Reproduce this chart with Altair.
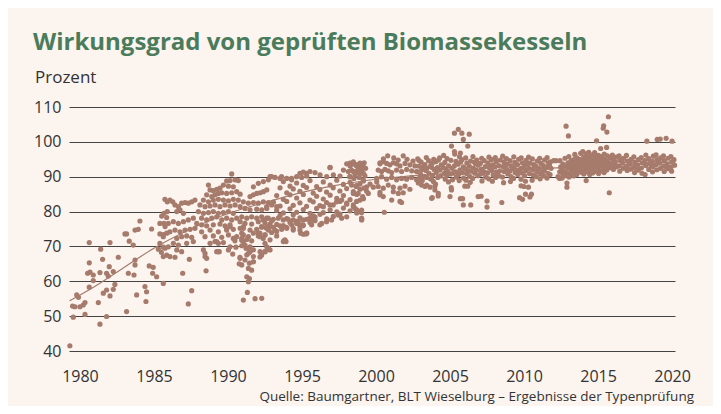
import altair as alt
import pandas as pd

TITLE = "Wirkungsgrad von geprüften Biomassekesseln"
UNIT = "Prozent"
SOURCE = "Quelle: Baumgartner, BLT Wieselburg – Ergebnisse der Typenprüfung"

x_ticks = [1980, 1985, 1990, 1995, 2000, 2005, 2010, 2015, 2020]
y_ticks = [40, 50, 60, 70, 80, 90, 100, 110]

# --- test results (year, efficiency %) ---
pts_1980_1986 = [
    (1979.32, 41.5), (1979.5, 52.9), (1979.55, 49.7), (1979.66, 52.7), (1979.78, 56.1), (1979.9, 55.4),
    (1980.0, 52.7), (1980.22, 53.2), (1980.34, 53.9), (1980.34, 50.5), (1980.63, 71.1), (1980.63, 65.3),
    (1980.52, 62.3), (1980.68, 62.6), (1980.9, 61.8), (1980.9, 60.2), (1980.63, 58.3), (1981.24, 53.9),
    (1981.35, 47.7), (1981.4, 69.2), (1981.53, 66.3), (1981.35, 62.5), (1981.58, 56.6), (1981.8, 49.9),
    (1981.8, 62.3), (1981.91, 61.5), (1981.98, 64.2), (1982.03, 71.1), (1981.8, 57.5), (1982.03, 55.8),
    (1982.25, 62.8), (1982.25, 57.7), (1982.36, 59.1), (1982.59, 66.9), (1983.04, 73.6), (1983.15, 73.6),
    (1983.33, 71.5), (1983.6, 70.4), (1983.72, 74.7), (1983.94, 74.9), (1984.05, 77.3), (1983.72, 66.1),
    (1983.72, 64.7), (1983.27, 62.3), (1983.65, 61.8), (1983.83, 56.1), (1983.15, 51.3), (1984.39, 58.5),
    (1984.5, 57.0), (1984.46, 54.2), (1984.68, 64.4), (1984.95, 64.0), (1984.91, 62.3), (1985.18, 61.3),
    (1984.84, 75.0), (1985.4, 73.6), (1985.63, 73.4), (1985.3, 69.2), (1985.4, 70.9), (1985.63, 59.4),
    (1985.4, 76.6), (1985.68, 76.6), (1985.52, 78.7), (1985.68, 79.5), (1985.9, 80.0), (1985.74, 83.5),
    (1985.9, 82.8), (1985.63, 69.8), (1985.5, 68.3),
]

pts_1986_1993 = [
    (1986.08, 83.3), (1986.27, 82.8), (1985.86, 78.3), (1985.97, 76.6), (1985.75, 75.7), (1985.86, 73.8),
    (1986.08, 74.2), (1985.63, 72.8), (1985.75, 69.5), (1985.97, 69.9), (1985.86, 67.5), (1985.63, 67.1),
    (1986.42, 81.9), (1986.65, 81.4), (1986.87, 82.4), (1987.1, 82.6), (1987.32, 82.4), (1987.55, 82.8),
    (1987.77, 83.3), (1986.54, 80.0), (1986.76, 80.5), (1986.99, 79.5), (1986.31, 77.1), (1986.65, 76.6),
    (1986.99, 77.1), (1987.32, 77.6), (1987.66, 78.1), (1986.42, 74.7), (1986.76, 74.2), (1987.1, 74.7),
    (1987.44, 74.9), (1987.77, 75.2), (1986.54, 72.3), (1986.87, 72.8), (1987.21, 73.0), (1987.55, 72.6),
    (1986.31, 70.9), (1986.65, 70.4), (1987.21, 70.9), (1986.54, 69.0), (1986.87, 68.5), (1986.08, 67.1),
    (1986.42, 66.9), (1987.66, 71.4), (1987.39, 66.3), (1988.34, 69.0), (1988.45, 68.0), (1988.45, 67.1),
    (1988.56, 66.6), (1986.94, 62.3), (1987.55, 57.3), (1987.32, 53.5), (1988.52, 63.0), (1989.24, 68.5),
    (1990.25, 90.8), (1989.91, 88.8), (1990.14, 88.9), (1990.48, 89.1), (1990.7, 88.9), (1989.69, 87.6),
    (1990.03, 87.3), (1990.36, 87.1), (1988.68, 87.6), (1988.79, 86.2), (1989.01, 86.0), (1989.24, 86.4),
    (1989.46, 86.7), (1988.56, 84.8), (1988.9, 84.3), (1989.13, 84.8), (1989.35, 85.2), (1989.58, 85.4),
    (1989.91, 85.2), (1990.25, 85.4), (1990.59, 85.7), (1990.82, 85.0), (1988.34, 83.3), (1988.68, 82.8),
    (1989.01, 83.3), (1989.35, 83.5), (1989.69, 83.3), (1990.03, 83.1), (1990.36, 83.5), (1990.7, 83.3),
    (1988.11, 81.9), (1988.45, 81.4), (1988.79, 81.6), (1989.13, 81.9), (1989.46, 81.4), (1989.8, 81.9),
    (1990.14, 81.6), (1990.48, 81.9), (1990.82, 81.4), (1988.0, 80.0), (1988.34, 79.5), (1988.68, 79.7),
    (1989.01, 80.0), (1989.35, 79.5), (1989.69, 79.7), (1990.03, 80.0), (1990.36, 79.5), (1988.22, 78.1),
    (1988.56, 77.6), (1988.9, 78.1), (1989.24, 78.5), (1989.58, 77.6), (1989.91, 78.1), (1990.25, 77.6),
    (1990.59, 78.1), (1987.89, 76.6), (1988.22, 76.2), (1988.56, 75.9), (1989.01, 76.2), (1989.46, 76.4),
    (1989.8, 75.9), (1990.14, 76.2), (1988.22, 74.2), (1988.79, 74.7), (1989.35, 74.2), (1989.91, 74.7),
    (1990.36, 74.9), (1990.82, 75.2), (1991.04, 75.7), (1988.45, 72.8), (1989.01, 73.0), (1989.58, 72.6),
    (1990.03, 73.3), (1990.59, 72.8), (1990.93, 73.8), (1988.79, 70.9), (1989.24, 71.4), (1989.69, 71.1),
    (1989.35, 68.5), (1990.03, 69.0), (1990.14, 69.9), (1990.93, 72.3), (1991.04, 71.4), (1991.15, 70.4),
    (1991.27, 69.5), (1991.38, 68.0), (1991.49, 84.3), (1991.72, 84.8), (1991.94, 85.2), (1992.17, 85.4),
    (1992.39, 85.7), (1992.62, 86.2), (1991.72, 87.1), (1992.05, 88.1), (1992.39, 88.6), (1992.73, 89.1),
    (1991.04, 82.8), (1991.38, 82.4), (1991.72, 82.6), (1992.05, 82.4), (1992.39, 82.8), (1992.73, 82.6),
    (1991.15, 80.9), (1991.49, 80.5), (1991.94, 80.7), (1992.28, 80.5), (1992.62, 80.9), (1990.93, 78.5),
    (1991.27, 78.1), (1991.6, 78.5), (1991.94, 78.1), (1992.28, 78.5), (1992.62, 78.1), (1990.82, 77.1),
    (1991.15, 76.6), (1991.6, 76.4), (1992.05, 77.1), (1992.5, 76.8), (1992.84, 76.4), (1991.04, 75.2),
    (1991.49, 74.7), (1991.94, 74.9), (1992.28, 75.5), (1992.73, 75.2), (1991.04, 73.3), (1991.38, 72.8),
    (1991.72, 73.8), (1992.05, 73.0), (1992.5, 73.3), (1990.93, 71.8), (1991.27, 72.0), (1991.6, 71.6),
    (1990.93, 70.2), (1991.22, 69.5), (1991.49, 69.9), (1991.72, 69.0), (1991.49, 68.5), (1991.27, 67.6),
    (1991.72, 67.1), (1992.17, 68.5), (1990.82, 66.6), (1991.15, 66.1), (1991.45, 65.2), (1991.72, 65.6),
    (1991.38, 63.7), (1991.6, 63.2), (1990.93, 64.7), (1991.27, 61.3), (1991.45, 60.8), (1991.38, 59.9),
    (1991.31, 56.8), (1991.04, 54.6), (1991.83, 55.0), (1992.28, 55.1), (1989.41, 68.5), (1990.32, 67.8),
    (1990.54, 69.8), (1990.81, 66.9), (1990.76, 65.0), (1991.71, 65.6), (1992.16, 67.0), (1992.5, 68.5),
    (1992.72, 69.2), (1989.12, 71.4), (1989.35, 70.9), (1990.36, 72.3), (1990.47, 71.6), (1990.14, 75.7),
    (1989.91, 75.2), (1992.05, 73.8), (1992.16, 72.8), (1992.57, 75.5), (1992.79, 75.9),
]

pts_1993_2000 = [
    (1996.9, 92.7), (1998.02, 93.7), (1998.25, 93.1), (1998.47, 93.7), (1998.7, 93.4), (1998.92, 92.9),
    (1999.03, 91.9), (1997.8, 91.9), (1998.13, 91.5), (1998.47, 91.5), (1998.81, 91.2), (1999.15, 91.0),
    (2000.27, 93.7), (1995.54, 91.5), (1995.88, 91.2), (1996.22, 90.5), (1996.67, 90.0), (1997.12, 90.5),
    (1997.57, 90.2), (1994.64, 90.0), (1994.98, 89.8), (1995.32, 90.2), (1993.97, 89.5), (1994.3, 89.1),
    (1992.84, 90.0), (1993.18, 89.8), (1993.52, 89.5),
    (1993.74, 88.6), (1994.19, 87.3), (1994.64, 88.2), (1995.09, 87.5), (1995.54, 88.9), (1995.99, 87.2),
    (1996.44, 88.5), (1996.9, 87.6), (1997.35, 89.0), (1997.8, 87.8), (1998.25, 88.4), (1998.7, 87.5),
    (1999.15, 88.8), (1999.6, 87.9), (2000.05, 88.5),
    (1993.52, 86.8), (1993.97, 85.4), (1994.41, 86.5), (1994.86, 85.8), (1995.31, 86.9), (1995.76, 85.3),
    (1996.21, 86.3), (1996.66, 85.6), (1997.11, 86.8), (1997.56, 85.9), (1998.02, 86.6), (1998.47, 85.2),
    (1998.92, 86.4), (1999.37, 85.8), (1999.82, 87.0), (2000.27, 85.5),
    (1993.29, 84.6), (1993.74, 83.5), (1994.19, 84.8), (1994.64, 83.9), (1995.09, 84.9), (1995.54, 83.3),
    (1995.99, 84.4), (1996.44, 83.6), (1996.9, 84.7), (1997.35, 83.8), (1997.8, 84.6), (1998.25, 83.4),
    (1998.7, 84.9), (1999.15, 83.7),
    (1993.07, 82.7), (1993.52, 81.6), (1993.97, 82.9), (1994.41, 81.8), (1994.86, 82.5), (1995.31, 81.5),
    (1995.76, 82.8), (1996.21, 81.7), (1996.66, 82.6), (1997.11, 81.9), (1997.56, 82.9), (1998.02, 82.1),
    (1998.47, 81.4),
    (1993.29, 80.4), (1993.74, 79.6), (1994.19, 80.8), (1994.64, 79.8), (1995.09, 80.6), (1995.54, 79.5),
    (1995.99, 80.9), (1996.44, 79.7), (1996.9, 80.5), (1997.35, 79.9), (1997.8, 81.0), (1998.25, 80.2),
    (1998.7, 79.6), (1999.03, 80.4),
    (1993.52, 78.9), (1993.97, 78.0), (1994.41, 79.1), (1994.86, 78.2), (1995.32, 77.8), (1995.77, 78.8),
    (1996.22, 79.2), (1996.67, 77.9), (1997.12, 78.6), (1997.57, 79.3),
    (1992.95, 77.3), (1993.29, 76.3), (1993.74, 76.0), (1994.19, 76.9), (1994.64, 77.2), (1995.09, 76.1),
    (1995.54, 76.9), (1995.88, 77.4),
    (1993.18, 74.7), (1993.63, 74.9), (1993.97, 75.2), (1994.41, 74.7), (1994.86, 75.7), (1995.32, 73.8),
    (1995.05, 75.9), (1998.92, 80.0), (1999.03, 78.1), (1994.91, 73.8), (1995.27, 73.6), (1993.79, 71.7),
    (1993.92, 71.4), (1992.73, 74.7), (1993.29, 74.3), (1992.84, 69.0), (1992.62, 69.9),
    (1998.35, 93.6), (1998.69, 93.1), (1998.58, 90.5), (1998.24, 90.0), (1998.8, 91.5), (1996.89, 92.6),
    (1999.37, 87.1), (1999.48, 85.2), (1998.69, 80.5), (1999.03, 77.6), (1995.31, 91.0), (1994.86, 91.0),
    (1995.09, 91.3), (1992.95, 90.0), (1993.62, 90.0), (1994.3, 89.5), (1992.61, 81.4), (1992.95, 81.9),
    (1993.29, 81.4), (1992.38, 77.6), (1992.72, 78.1), (1993.06, 77.8), (1993.4, 78.1), (1993.74, 77.6),
    (1994.07, 77.8), (1994.41, 77.6), (1994.75, 77.1), (1995.09, 77.6), (1995.54, 78.1), (1995.88, 78.4),
    (1992.27, 75.7), (1992.61, 75.2), (1993.06, 75.5), (1993.51, 75.9), (1993.96, 75.5), (1994.3, 76.2),
    (1994.64, 76.6), (1994.98, 76.2), (1992.16, 73.8), (1992.5, 73.3), (1992.95, 74.0), (1994.41, 75.2),
    (1994.86, 74.7), (1992.38, 72.3), (1992.84, 71.9), (1992.5, 70.9), (1993.29, 73.0), (1995.09, 73.5),
    (1995.31, 73.8), (1992.72, 69.5), (1992.27, 67.5), (1992.5, 68.5), (1993.85, 71.9), (1993.74, 71.4),
    (1995.76, 77.6), (1995.65, 76.2), (1996.21, 76.2), (1996.33, 76.6), (1996.66, 77.1), (1997.0, 77.6),
    (1997.68, 78.1), (1998.02, 78.5), (1997.45, 79.0), (1997.34, 82.8), (1997.68, 83.3), (1998.02, 82.4),
    (1996.44, 81.4), (1996.89, 81.9),
]

pts_1998_2003 = [
    (1998.24, 93.9), (1998.47, 94.3), (1998.69, 93.4), (1998.92, 93.9), (1999.14, 92.9), (1998.35, 91.9),
    (1998.58, 91.5), (1998.8, 92.1), (1999.03, 91.0), (1998.24, 90.0), (1998.51, 89.5), (1998.87, 89.8),
    (1999.14, 89.1), (1998.35, 87.6), (1998.65, 87.2), (1998.92, 87.9), (1999.19, 86.7), (1998.47, 85.7),
    (1998.8, 85.2), (1999.1, 84.3), (1998.92, 83.3), (1998.69, 82.9), (1998.47, 81.9), (1998.58, 80.9),
    (1998.69, 80.3), (1999.03, 79.7), (1999.03, 77.8), (2000.56, 79.8),
    (2000.79, 96.0), (2001.84, 96.0), (2002.92, 94.6),
    (2000.27, 94.0), (2000.49, 94.3), (2000.72, 93.8), (2000.94, 93.4), (2001.17, 94.0), (2001.39, 93.7),
    (2001.62, 93.1), (2001.96, 93.8), (2002.29, 93.4), (2002.63, 93.1),
    (2000.15, 91.9), (2000.38, 91.5), (2000.6, 92.1), (2000.83, 91.7), (2001.06, 91.2), (2001.39, 91.9),
    (2001.73, 91.5), (2002.07, 92.1), (2002.41, 91.7), (2002.74, 91.5), (2003.08, 91.9), (2003.42, 92.4),
    (2003.76, 92.7),
    (2000.04, 89.5), (2000.38, 90.0), (2000.72, 89.3), (2001.06, 89.8), (2001.39, 89.1), (2001.73, 89.5),
    (2002.07, 89.3), (2002.41, 89.8), (2002.74, 89.1), (2003.08, 89.5), (2003.42, 89.8), (2003.76, 89.3),
    (2000.15, 87.2), (2000.49, 86.7), (2000.83, 87.6), (2001.17, 87.0), (2001.62, 86.7), (2001.96, 87.3),
    (2002.29, 86.4), (2003.08, 87.6), (2003.31, 87.2), (2003.65, 87.0), (2003.98, 87.3),
    (2000.27, 84.8), (2000.49, 84.3), (2001.17, 85.7), (2001.51, 85.2), (2001.84, 85.4), (2003.98, 86.2),
    (2004.21, 85.2), (2003.76, 83.8), (2001.06, 83.3), (2001.62, 82.9), (2001.73, 82.6),
    (2000.5, 95.1), (2001.2, 95.4), (2001.5, 94.8), (2002.1, 95.0), (2002.5, 94.5), (1999.3, 92.4),
    (1999.2, 94.0), (1999.25, 90.3),
]

pts_2003_2012 = [
    (2002.82, 95.1), (2002.9, 93.0), (2002.78, 91.4), (2002.95, 89.6), (2002.86, 88.2),
    (2003.05, 94.2), (2003.16, 92.3), (2003.02, 90.6), (2003.13, 88.9),
    (2003.4, 95.5), (2003.3, 93.5), (2003.38, 91.8), (2003.27, 90.1), (2003.42, 87.6),
    (2003.55, 94.6), (2003.66, 92.9), (2003.58, 91.0), (2003.68, 89.4),
    (2003.9, 95.0), (2003.8, 93.9), (2003.93, 92.1), (2003.82, 90.4), (2003.88, 88.6),
    (2004.04, 94.3), (2004.15, 92.6), (2004.07, 91.3), (2004.17, 89.8), (2004.02, 87.9),
    (2004.3, 95.4), (2004.41, 93.4), (2004.33, 91.9), (2004.38, 90.2),
    (2004.57, 96.1), (2004.65, 94.1), (2004.54, 92.7), (2004.62, 91.0), (2004.68, 89.3),
    (2004.8, 95.2), (2004.91, 93.1), (2004.83, 91.6), (2004.78, 90.4), (2004.9, 88.5),
    (2005.06, 94.7), (2005.14, 92.4), (2005.03, 90.8), (2005.17, 89.1), (2005.08, 86.9),
    (2005.32, 96.5), (2005.4, 94.4), (2005.29, 93.1), (2005.37, 91.4), (2005.43, 89.9),
    (2005.64, 95.7), (2005.55, 93.6), (2005.67, 92.0), (2005.58, 90.6), (2005.62, 88.9),
    (2005.8, 94.9), (2005.9, 92.8), (2005.83, 91.2), (2005.92, 89.6),
    (2006.06, 95.4), (2006.14, 93.9), (2006.03, 92.3), (2006.12, 90.9), (2006.08, 89.0),
    (2006.39, 94.5), (2006.31, 93.0), (2006.42, 91.6), (2006.33, 90.1), (2006.37, 88.4),
    (2006.55, 95.8), (2006.64, 94.2), (2006.58, 92.5), (2006.67, 91.0), (2006.53, 89.5),
    (2006.81, 94.8), (2006.9, 93.3), (2006.79, 91.9), (2006.88, 90.3),
    (2007.14, 95.3), (2007.05, 93.8), (2007.12, 92.2), (2007.03, 90.7), (2007.16, 88.8),
    (2007.31, 94.6), (2007.39, 92.9), (2007.28, 91.5), (2007.41, 89.9),
    (2007.63, 95.6), (2007.56, 94.0), (2007.66, 92.6), (2007.54, 91.1), (2007.62, 89.4),
    (2007.8, 94.9), (2007.89, 93.4), (2007.82, 91.8), (2007.92, 90.5), (2007.86, 88.7),
    (2008.06, 95.5), (2008.13, 94.4), (2008.04, 92.8), (2008.15, 91.3), (2008.08, 89.8),
    (2008.39, 94.8), (2008.3, 93.2), (2008.37, 91.7), (2008.32, 90.2),
    (2008.56, 95.9), (2008.64, 94.3), (2008.58, 92.9), (2008.66, 91.5), (2008.55, 89.9), (2008.62, 88.3),
    (2008.81, 95.2), (2008.89, 93.6), (2008.83, 92.2), (2008.9, 90.8),
    (2009.06, 94.6), (2009.14, 93.1), (2009.04, 91.6), (2009.12, 90.0), (2009.08, 88.6),
    (2009.31, 95.7), (2009.38, 94.1), (2009.33, 92.6), (2009.4, 91.2), (2009.29, 89.5),
    (2009.64, 95.0), (2009.56, 93.5), (2009.62, 92.0), (2009.58, 90.6),
    (2009.81, 95.4), (2009.89, 94.0), (2009.83, 92.5), (2009.87, 91.1), (2009.8, 89.3),
    (2010.14, 94.7), (2010.06, 93.2), (2010.12, 91.8), (2010.04, 90.3), (2010.1, 88.7),
    (2010.31, 95.6), (2010.39, 93.9), (2010.33, 92.4), (2010.37, 90.9),
    (2010.56, 95.1), (2010.64, 93.5), (2010.58, 92.1), (2010.63, 90.5), (2010.55, 89.0),
    (2010.89, 94.5), (2010.81, 93.0), (2010.87, 91.5), (2010.83, 90.0),
    (2011.06, 95.3), (2011.14, 93.8), (2011.04, 92.3), (2011.12, 90.8), (2011.09, 89.4),
    (2011.39, 94.8), (2011.31, 93.2), (2011.37, 91.7), (2011.33, 90.2),
    (2011.56, 95.5), (2011.64, 94.0), (2011.58, 92.7), (2011.62, 91.0), (2011.55, 89.6),
    (2011.78, 94.3), (2011.83, 92.4), (2011.76, 90.6),
    (2003.22, 93.0), (2003.72, 93.3), (2004.22, 94.8), (2004.72, 92.2), (2005.22, 91.0), (2005.72, 94.2),
    (2006.22, 91.7), (2006.72, 93.8), (2007.22, 91.0), (2007.72, 93.1), (2008.22, 90.6), (2008.72, 93.2),
    (2009.22, 92.3), (2009.72, 91.4), (2010.22, 93.6), (2010.72, 92.8), (2011.22, 91.2), (2011.72, 93.4),
    (2012.0, 94.6), (2012.16, 94.6), (2012.3, 90.0), (2012.4, 89.5),
]

pts_2012_2020 = [
    (2012.43, 94.6), (2012.48, 92.8), (2012.41, 91.4),
    (2012.63, 93.6), (2012.57, 92.1), (2012.62, 90.7), (2012.58, 89.6),
    (2012.77, 95.3), (2012.83, 93.0), (2012.78, 91.6), (2012.84, 90.3),
    (2013.03, 95.8), (2012.97, 94.0), (2013.02, 92.5), (2012.98, 91.0), (2013.04, 89.9),
    (2013.17, 94.6), (2013.23, 93.3), (2013.18, 91.9), (2013.22, 90.6),
    (2013.43, 96.4), (2013.37, 94.9), (2013.42, 93.6), (2013.38, 92.2), (2013.44, 91.1), (2013.36, 90.2),
    (2013.57, 95.4), (2013.63, 94.1), (2013.58, 92.8), (2013.62, 91.6), (2013.56, 90.6),
    (2013.83, 96.7), (2013.77, 95.0), (2013.82, 93.8), (2013.78, 92.4), (2013.84, 91.3),
    (2013.97, 97.2), (2014.03, 95.7), (2013.98, 94.4), (2014.02, 93.1), (2013.96, 91.9), (2014.04, 90.8),
    (2014.23, 96.6), (2014.17, 95.2), (2014.22, 93.9), (2014.18, 92.6), (2014.24, 91.4),
    (2014.37, 97.0), (2014.43, 95.6), (2014.38, 94.3), (2014.42, 93.0), (2014.36, 91.8), (2014.44, 90.6),
    (2014.63, 96.3), (2014.57, 94.9), (2014.62, 93.5), (2014.58, 92.2), (2014.64, 91.1),
    (2014.77, 96.9), (2014.83, 95.5), (2014.78, 94.1), (2014.82, 92.8), (2014.76, 91.5),
    (2015.03, 96.1), (2014.97, 94.7), (2015.02, 93.4), (2014.98, 92.1), (2015.04, 90.9),
    (2015.18, 98.1), (2015.23, 95.8), (2015.17, 94.4), (2015.22, 93.0), (2015.19, 91.7),
    (2015.42, 96.5), (2015.37, 95.1), (2015.43, 93.8), (2015.38, 92.5), (2015.41, 91.2),
    (2015.58, 98.4), (2015.63, 96.0), (2015.57, 94.6), (2015.62, 93.2), (2015.59, 91.9),
    (2015.83, 95.4), (2015.77, 94.0), (2015.82, 92.6),
    (2015.97, 96.2), (2016.03, 94.9), (2015.98, 93.5), (2016.04, 92.1),
    (2016.23, 95.6), (2016.17, 94.2), (2016.22, 92.8),
    (2016.42, 96.0), (2016.48, 94.7), (2016.43, 93.1), (2016.47, 91.6),
    (2016.73, 95.3), (2016.67, 93.9), (2016.72, 92.4),
    (2016.92, 96.1), (2016.98, 94.5), (2016.93, 93.0), (2016.97, 91.8),
    (2017.23, 95.0), (2017.17, 93.6), (2017.22, 92.2),
    (2017.42, 95.7), (2017.48, 94.2), (2017.43, 92.7), (2017.47, 91.2),
    (2017.73, 94.9), (2017.67, 93.4), (2017.72, 91.9),
    (2017.92, 95.5), (2017.98, 94.0), (2017.93, 92.5), (2017.97, 91.0),
    (2018.23, 96.2), (2018.17, 94.6), (2018.22, 93.2), (2018.18, 90.6),
    (2018.42, 95.2), (2018.48, 93.8), (2018.43, 92.1),
    (2018.73, 95.9), (2018.67, 94.4), (2018.72, 92.9), (2018.68, 91.4),
    (2018.92, 96.3), (2018.98, 94.9), (2018.93, 93.5), (2018.97, 92.0),
    (2019.23, 95.4), (2019.17, 93.9), (2019.22, 92.4),
    (2019.42, 96.0), (2019.48, 94.6), (2019.43, 93.0), (2019.47, 91.5),
    (2019.73, 95.3), (2019.67, 93.7), (2019.72, 92.3),
    (2019.92, 95.8), (2019.98, 94.3), (2019.93, 92.8), (2019.97, 91.6),
    (2020.13, 94.9), (2020.17, 93.3),
    (2016.1, 93.2), (2016.6, 95.0), (2017.1, 94.3), (2017.6, 92.6), (2018.1, 93.9), (2018.6, 93.1),
    (2019.1, 94.7), (2019.6, 92.9), (2013.1, 92.9), (2013.5, 93.0), (2013.9, 94.0), (2014.3, 95.4),
    (2014.7, 93.9), (2015.1, 95.0), (2015.5, 94.0),
]

pts_outliers = [
    (2005.56, 103.6), (2005.3, 102.5), (2005.8, 102.5), (2006.3, 102.2), (2005.9, 100.7), (2005.1, 98.8),
    (2006.2, 98.8), (2005.3, 97.2), (2005.7, 96.8), (2012.84, 104.5), (2013.0, 101.7), (2015.38, 104.6),
    (2015.35, 103.9), (2015.7, 107.2), (2015.6, 102.8), (2014.9, 100.3), (2018.3, 100.2), (2019.0, 100.7),
    (2019.2, 100.8), (2019.6, 101.0), (2020.0, 100.2), (2015.76, 85.4), (2014.2, 88.9), (2012.9, 88.2),
    (2012.9, 87.0), (2009.7, 84.0), (2009.9, 83.5), (2010.1, 85.0), (2010.5, 85.0), (2010.4, 84.2),
    (2009.8, 87.4), (2003.8, 84.0), (2004.2, 84.5), (2005.0, 84.3), (2005.1, 86.2), (2005.7, 83.7),
    (2005.85, 83.7), (2005.9, 81.9), (2006.4, 81.9), (2006.9, 84.3), (2007.1, 84.4), (2007.5, 83.0),
    (2007.5, 81.3), (2008.5, 82.6), (2006.0, 87.3), (2006.2, 87.3), (2010.0, 87.2), (2010.3, 87.0),
]

# fitted trend curve
trend_years = [1979.3, 1981, 1983, 1985, 1987, 1989, 1991, 1993, 1995, 1997, 1999, 2001, 2003,
               2005, 2007, 2009, 2011, 2013, 2015, 2017, 2019, 2020.2]
trend_vals = [54.4, 58.5, 64.0, 69.5, 74.0, 77.8, 80.8, 83.2, 85.5, 87.3, 88.7, 89.7, 90.4,
              91.0, 91.5, 91.9, 92.3, 92.7, 93.1, 93.5, 93.9, 94.2]

all_pts = (pts_1980_1986 + pts_1986_1993 + pts_1993_2000 + pts_1998_2003
           + pts_2003_2012 + pts_2012_2020 + pts_outliers)
df = pd.DataFrame(all_pts, columns=["Jahr", "Wert"])
trend_df = pd.DataFrame({"Jahr": trend_years, "Wert": trend_vals})

DOT = "#A67B6C"
FONT = "Open Sans"
TXT = "#333333"

x_enc = alt.X("Jahr:Q",
              scale=alt.Scale(domain=[1979.26, 2020.2], nice=False, zero=False),
              axis=alt.Axis(values=x_ticks, format="d", grid=False, domain=False, ticks=False,
                            labelPadding=17, labelFontSize=16, labelColor=TXT,
                            labelFont=FONT, title=None))
y_enc = alt.Y("Wert:Q",
              scale=alt.Scale(domain=[40, 110], nice=False, zero=False),
              axis=alt.Axis(values=y_ticks, grid=True, gridColor="#444444", gridWidth=1,
                            domain=False, ticks=False, labelPadding=8, labelFontSize=16,
                            labelColor=TXT, labelFont=FONT, title=None))

points = alt.Chart(df).mark_circle(size=27, color=DOT, opacity=1).encode(x=x_enc, y=y_enc)
trend = alt.Chart(trend_df).mark_line(color=DOT, strokeWidth=1.2, interpolate="monotone").encode(
    x=x_enc, y=y_enc)

def label(text, **kw):
    return alt.Chart(pd.DataFrame({"t": [text]})).mark_text(**kw).encode(text="t:N")

title = label(TITLE, align="left", baseline="alphabetic", font=FONT, fontSize=24,
              fontWeight="bold", color="#4A7B5B").encode(x=alt.value(-36), y=alt.value(-57))
unit = label(UNIT, align="left", baseline="alphabetic", font=FONT, fontSize=17,
             color=TXT).encode(x=alt.value(-34), y=alt.value(-24))
source = label(SOURCE, align="right", baseline="alphabetic", font=FONT, fontSize=13.5,
               color=TXT).encode(x=alt.value(625), y=alt.value(294))

chart = alt.layer(points, trend, title, unit, source).properties(
    width=606, height=244,
    padding={"left": 61, "top": 99, "right": 38, "bottom": 55},
    autosize=alt.AutoSizeParams(type="none"),
    background="#FBF4EF",
).configure_view(stroke=None)

chart.save("out.html", embed_options={"renderer": "svg", "actions": False})
